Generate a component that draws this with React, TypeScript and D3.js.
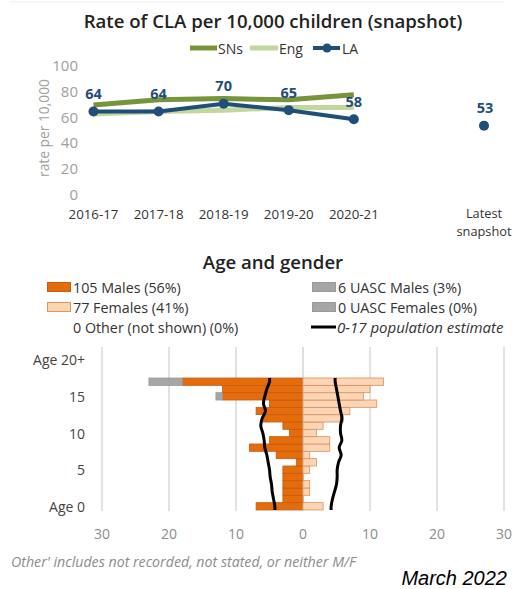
import React from 'react';
import * as d3 from 'd3';

// Rate of CLA per 10,000 children
const years = ['2016-17', '2017-18', '2018-19', '2019-20', '2020-21'];
const slots = ['2016-17', '2017-18', '2018-19', '2019-20', '2020-21', 'gap', 'Latest snapshot'];
const laRate = [64, 64, 70, 65, 58];
const snRate = [69, 73, 74, 73, 77];
const engRate = [62, 64, 65, 67, 67];
const laLatest = 53;
const rateTicks = [0, 20, 40, 60, 80, 100];

// Age and gender (index = age)
const ages = [0, 1, 2, 3, 4, 5, 6, 7, 8, 9, 10, 11, 12, 13, 14, 15, 16, 17];
const males = [7, 3, 3, 3, 3, 3, 1, 4, 8, 5, 2, 3, 6, 7, 5, 12, 12, 18];
const females = [3, 0, 1, 1, 0, 1, 2, 1, 4, 4, 2, 3, 6, 7, 11, 9, 10, 12];
const uascMales = [0, 0, 0, 0, 0, 0, 0, 0, 0, 0, 0, 0, 0, 0, 0, 1, 0, 5];
const uascFemales = [0, 0, 0, 0, 0, 0, 0, 0, 0, 0, 0, 0, 0, 0, 0, 0, 0, 0];
const otherCount = 0;
const popMale = [4.2, 4.4, 4.6, 4.7, 4.9, 5.0, 5.2, 5.4, 5.7, 5.8, 6.0, 6.3, 6.1, 5.6, 5.9, 5.7, 5.4, 5.0];
const popFemale = [4.2, 4.4, 4.7, 5.0, 5.1, 5.1, 5.3, 5.7, 5.4, 5.8, 5.6, 5.6, 5.8, 5.6, 5.4, 5.2, 5.0, 4.8];
const ageTicks = [0, 5, 10, 15, 20];
const countTicks = [-30, -20, -10, 0, 10, 20, 30];

const FONT = "'Open Sans', 'Noto Sans', sans-serif";
const BLUE = '#1f4e79';
const DARK_GREEN = '#77933c';
const LIGHT_GREEN = '#c3d69b';
const ORANGE = '#e46c0a';
const PEACH = '#fcd5b5';
const GREY = '#a6a6a6';

export default function App() {
  // top chart scales
  const x = d3.scalePoint<string>().domain(slots).range([93.5, 484]);
  const y = d3.scaleLinear().domain([0, 100]).range([194, 65]);
  const line = d3.line<number>().x((_, i) => x(years[i])!).y(d => y(d));

  // pyramid scales
  const px = d3.scaleLinear().domain([-30, 30]).range([102, 504]);
  const py = d3.scaleLinear().domain([0, 20]).range([506.3, 359.7]);
  const rowH = py(0) - py(1);

  const popLine = (vals: number[], sign: number) => {
    const pts: [number, number][] = vals.map((v, i) => [px(sign * v), py(ages[i])]);
    pts.unshift([px(sign * vals[0]), py(ages[0]) + rowH / 2]);
    pts.push([px(sign * vals[vals.length - 1]), py(ages[ages.length - 1]) - rowH / 2]);
    return d3.line().curve(d3.curveCatmullRom)(pts) || '';
  };

  const totalM = d3.sum(males);
  const totalF = d3.sum(females);
  const totalUM = d3.sum(uascMales);
  const totalUF = d3.sum(uascFemales);
  const total = totalM + totalF + totalUM + totalUF + otherCount;
  const pct = (n: number) => `${Math.round((n / total) * 100)}%`;

  const legendItems = [
    { label: `${totalM} Males (${pct(totalM)})`, x: 47, y: 287, fill: ORANGE, stroke: '#c55a11' },
    { label: `${totalF} Females (${pct(totalF)})`, x: 47, y: 307, fill: PEACH, stroke: '#e0955a' },
    { label: `${otherCount} Other (not shown) (${pct(otherCount)})`, x: 47, y: 327, fill: 'none', stroke: 'none' },
    { label: `${totalUM} UASC Males (${pct(totalUM)})`, x: 312, y: 287, fill: GREY, stroke: '#999' },
    { label: `${totalUF} UASC Females (${pct(totalUF)})`, x: 312, y: 307, fill: GREY, stroke: '#999' },
  ];

  return (
    <svg width={512} height={589} style={{ position: 'absolute', left: 0, top: 0, background: '#fff' }} fontFamily={FONT}>
      <line x1={10} x2={505} y1={2} y2={2} stroke="#eee" />
      <text x={273} y={20} textAnchor="middle" dominantBaseline="central" fontSize={18.6} fontWeight={600} fill="#222">
        Rate of CLA per 10,000 children (snapshot)
      </text>

      {/* legend */}
      <g fontSize={14} fill="#333" dominantBaseline="central">
        <line x1={190} x2={217} y1={48} y2={48} stroke={DARK_GREEN} strokeWidth={5} />
        <text x={218} y={48}>SNs</text>
        <line x1={250} x2={278} y1={48} y2={48} stroke={LIGHT_GREEN} strokeWidth={5} />
        <text x={279} y={48}>Eng</text>
        <line x1={313} x2={340} y1={48} y2={48} stroke={BLUE} strokeWidth={4} />
        <circle cx={327} cy={48} r={4.5} fill={BLUE} />
        <text x={342} y={48}>LA</text>
      </g>

      {/* y axis */}
      <g fontSize={15} fill="#a0a0a0" textAnchor="end" dominantBaseline="central">
        {rateTicks.map(t => (
          <text key={t} x={78} y={y(t)}>{t}</text>
        ))}
      </g>
      <text transform={`translate(43,128) rotate(-90)`} textAnchor="middle" dominantBaseline="central" fontSize={13.8} fill="#a0a0a0">
        rate per 10,000
      </text>

      {/* x labels */}
      <g fontSize={13.3} fill="#333" textAnchor="middle" dominantBaseline="central">
        {years.map(c => (
          <text key={c} x={x(c)} y={214}>{c}</text>
        ))}
        <text x={x('Latest snapshot')} y={213} fontSize={12.8}>Latest</text>
        <text x={x('Latest snapshot')} y={231} fontSize={12.8}>snapshot</text>
      </g>

      {/* lines */}
      <path d={line(engRate) || ''} fill="none" stroke={LIGHT_GREEN} strokeWidth={5} strokeLinejoin="round" />
      <path d={line(snRate) || ''} fill="none" stroke={DARK_GREEN} strokeWidth={5} strokeLinejoin="round" />
      <path d={line(laRate) || ''} fill="none" stroke={BLUE} strokeWidth={4} strokeLinejoin="round" />
      {laRate.map((v, i) => (
        <g key={years[i]}>
          <circle cx={x(years[i])} cy={y(v)} r={5} fill={BLUE} />
          <text x={x(years[i])} y={y(v) - 18} textAnchor="middle" dominantBaseline="central" fontSize={14.5} fontWeight={700} fill={BLUE}>
            {v}
          </text>
        </g>
      ))}
      <circle cx={x('Latest snapshot')} cy={y(laLatest)} r={5} fill={BLUE} />
      <text x={(x('Latest snapshot') || 0) + 1} y={y(laLatest) - 18} textAnchor="middle" dominantBaseline="central" fontSize={14.5} fontWeight={700} fill={BLUE}>
        {laLatest}
      </text>

      {/* Age and gender */}
      <text x={273} y={261} textAnchor="middle" dominantBaseline="central" fontSize={18.6} fontWeight={600} fill="#222">
        Age and gender
      </text>
      <g fontSize={14.3} fill="#333" dominantBaseline="central">
        {legendItems.map(d => (
          <g key={d.label}>
            {d.fill !== 'none' && (
              <rect x={d.x + 0.5} y={d.y - 4.5} width={23} height={9} fill={d.fill} stroke={d.stroke} />
            )}
            <text x={d.x + 26} y={d.y}>{d.label}</text>
          </g>
        ))}
        <line x1={311} x2={336} y1={327} y2={327} stroke="#000" strokeWidth={3} />
        <text x={337} y={327} fontStyle="italic" fontSize={15}>0-17 population estimate</text>
      </g>

      {/* grid */}
      {countTicks.map(t => (
        <line key={t} x1={px(t)} x2={px(t)} y1={347} y2={511} stroke="#d9d9d9" strokeWidth={1.5} />
      ))}
      <g fontSize={14} fill="#444" textAnchor="end" dominantBaseline="central">
        {ageTicks.map(a => (
          <text key={a} x={85} y={py(a)}>
            {a === 0 ? 'Age 0' : a === 20 ? 'Age 20+' : a}
          </text>
        ))}
      </g>
      <g fontSize={14} fill="#8c8c8c" textAnchor="middle" dominantBaseline="central">
        {countTicks.map(t => (
          <text key={t} x={px(t)} y={533}>{Math.abs(t)}</text>
        ))}
      </g>

      {/* bars */}
      {ages.map((a, i) => {
        const top = py(a) - rowH / 2;
        return (
          <g key={a}>
            {males[i] > 0 && (
              <rect x={px(-males[i])} y={top} width={px(0) - px(-males[i])} height={rowH} fill={ORANGE} stroke="#c55a11" strokeWidth={0.8} />
            )}
            {uascMales[i] > 0 && (
              <rect x={px(-males[i] - uascMales[i])} y={top} width={px(0) - px(uascMales[i] * -1)} height={rowH} fill={GREY} stroke="#999" strokeWidth={0.8} />
            )}
            {females[i] > 0 && (
              <rect x={px(0)} y={top} width={px(females[i]) - px(0)} height={rowH} fill={PEACH} stroke="#d9915a" strokeWidth={0.8} />
            )}
            {uascFemales[i] > 0 && (
              <rect x={px(females[i])} y={top} width={px(uascFemales[i]) - px(0)} height={rowH} fill={GREY} stroke="#999" strokeWidth={0.8} />
            )}
          </g>
        );
      })}
      <line x1={px(0)} x2={px(0)} y1={347} y2={511} stroke="#d9d9d9" strokeWidth={0.8} opacity={0.5} />

      <path d={popLine(popMale, -1)} fill="none" stroke="#000" strokeWidth={3} />
      <path d={popLine(popFemale, 1)} fill="none" stroke="#000" strokeWidth={3} />

      <text x={11} y={561} fontSize={14.2} fontStyle="italic" fill="#8c8c8c" dominantBaseline="central">
        Other' includes not recorded, not stated, or neither M/F
      </text>
      <text x={507} y={578} textAnchor="end" dominantBaseline="central" fontSize={20} fontStyle="italic" fill="#000" fontFamily="'Liberation Sans', Arial, sans-serif">
        March 2022
      </text>
    </svg>
  );
}
